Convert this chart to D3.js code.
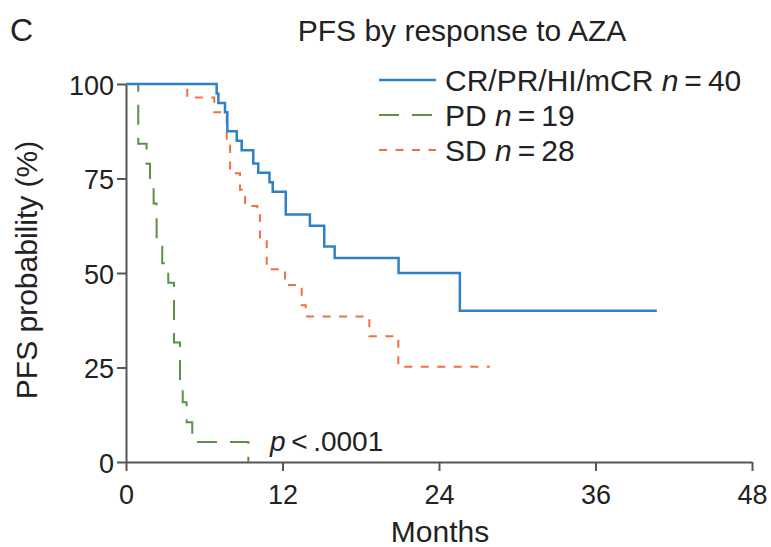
<!DOCTYPE html>
<html>
<head>
<meta charset="utf-8">
<script src="https://cdn.jsdelivr.net/npm/d3@7"></script>
<style>
	body { margin: 0; background: #fff; }
	text { font-family: "Liberation Sans", Arial, sans-serif; fill: #222; }
</style>
</head>
<body>
<svg id="chart" width="771" height="547"></svg>
<script>
// Kaplan-Meier steps: month of each drop, survival (%) after it
let crTimes = [0, 6.95, 7.08, 7.59, 7.77, 8.49, 8.87, 9.76, 10.14, 11.0, 11.25, 12.25, 14.1, 15.2, 16.0, 20.9, 25.6, 40.7]
let crSurv = [100, 97.5, 95, 92.5, 87.5, 85, 82.5, 79, 76.5, 74, 71.5, 65.5, 62.5, 57, 54, 50, 40, 40]

let pdTimes = [0, 0.94, 1.58, 1.84, 2.12, 2.35, 2.78, 3.24, 3.68, 4.14, 4.35, 4.65, 5.08, 9.38]
let pdSurv = [100, 84.2, 78.9, 73.7, 68.4, 57.9, 52.6, 47.4, 31.6, 21.1, 15.8, 10.5, 5.3, 0]

let sdTimes = [0, 4.7, 6.77, 7.72, 7.98, 8.74, 9.13, 10.07, 10.27, 10.79, 12.19, 13.47, 13.78, 18.66, 20.88, 27.9]
let sdSurv = [100, 96.4, 92.5, 83.7, 76.4, 72, 67.7, 65.3, 59.4, 51, 46.8, 41.5, 38.5, 33.3, 25.2, 25.2]

let xTicks = [0, 12, 24, 36, 48]
let yTicks = [0, 25, 50, 75, 100]

let groups = [
	{ label: 'CR/PR/HI/mCR ', n: 40, times: crTimes, surv: crSurv, color: '#2f80c4', dash: null, width: 2.5 },
	{ label: 'PD ', n: 19, times: pdTimes, surv: pdSurv, color: '#5a9147', dash: '20,13', width: 2 },
	{ label: 'SD ', n: 28, times: sdTimes, surv: sdSurv, color: '#f2703f', dash: '8,8.5', width: 2 }
]

let svg = d3.select('#chart')
let x = d3.scaleLinear().domain([0, 48]).range([126, 752])
let y = d3.scaleLinear().domain([0, 100]).range([462, 84])

let axisColor = '#555'

// axes
let gx = svg.append('g').attr('transform', 'translate(0,' + y(0) + ')')
	.call(d3.axisBottom(x).tickValues(xTicks).tickSize(9).tickSizeOuter(0).tickPadding(9))
let gy = svg.append('g').attr('transform', 'translate(' + x(0) + ',0)')
	.call(d3.axisLeft(y).tickValues(yTicks).tickSize(9).tickSizeOuter(0).tickPadding(3))
;[gx, gy].forEach(g => {
	g.selectAll('path, line').attr('stroke', axisColor).attr('stroke-width', 2)
	g.selectAll('text').style('font-size', '27px').attr('fill', '#222')
})
gx.selectAll('text').attr('dy', '0.9em')
gy.selectAll('text').attr('dy', '0.37em')

// curves: draw dashed ones first so the solid line sits on top
let line = d3.line().x(d => x(d[0])).y(d => y(d[1])).curve(d3.curveStepAfter)
groups.slice().reverse().forEach(g => {
	svg.append('path')
		.attr('d', line(g.times.map((t, i) => [t, g.surv[i]])))
		.attr('fill', 'none')
		.attr('stroke', g.color)
		.attr('stroke-width', g.width)
		.attr('stroke-dasharray', g.dash)
})

// legend
groups.forEach((g, i) => {
	let ly = 80 + i * 35
	svg.append('line').attr('x1', 379).attr('x2', 436).attr('y1', ly).attr('y2', ly)
		.attr('stroke', g.color).attr('stroke-width', g.width).attr('stroke-dasharray', g.dash)
	let t = svg.append('text').attr('x', 445).attr('y', ly + 11).style('font-size', '30px')
	t.append('tspan').text(g.label)
	t.append('tspan').style('font-style', 'italic').text('n')
	t.append('tspan').text('\u2009=\u2009' + g.n)
})

// titles
svg.append('text').attr('x', 10).attr('y', 41).style('font-size', '32px').text('C')
svg.append('text').attr('x', 462).attr('y', 41).attr('text-anchor', 'middle').style('font-size', '30px')
	.text('PFS by response to AZA')
svg.append('text').attr('x', 440).attr('y', 542).attr('text-anchor', 'middle').style('font-size', '30px')
	.text('Months')
svg.append('text').attr('transform', 'translate(37,270) rotate(-90)').attr('text-anchor', 'middle')
	.style('font-size', '30px').text('PFS probability (%)')

let p = svg.append('text').attr('x', 270).attr('y', 451).style('font-size', '28px')
p.append('tspan').style('font-style', 'italic').text('p')
p.append('tspan').text('\u2009<\u2009.0001')
</script>
</body>
</html>
